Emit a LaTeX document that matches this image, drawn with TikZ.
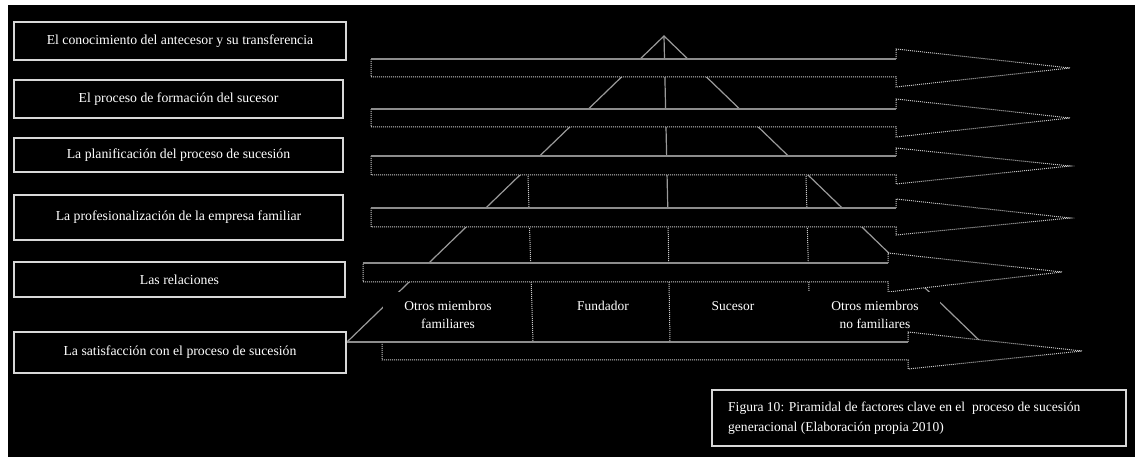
\documentclass[tikz,border=0pt]{standalone}
\usepackage{fontspec}
\setmainfont{Liberation Serif}
\definecolor{boxline}{HTML}{D8D8D8}
\definecolor{topline}{HTML}{8C8C8C}
\definecolor{dotline}{HTML}{C8C8C8}
\definecolor{pyrline}{HTML}{9A9A9A}
\tikzset{
  leftbox/.style={draw=boxline, line width=1.2bp, text=white, inner sep=0pt,
    font=\fontsize{13.8}{17}\selectfont, align=center},
  arrowtop/.style={draw=topline, line width=1.3bp},
  arrowdots/.style={draw=dotline, line width=1bp, dash pattern=on 1bp off 1bp},
  pyr/.style={draw=pyrline, line width=1.2bp},
  pyrdots/.style={draw=dotline, line width=1bp, dash pattern=on 1bp off 1bp},
  collabel/.style={text=white, inner sep=0pt, align=center,
    font=\fontsize{13.5}{18}\selectfont},
  mask/.style={fill=black},
}
\begin{document}
\begin{tikzpicture}[x=1bp, y=-1bp]
\useasboundingbox (0,0) rectangle (1135,457);
\fill[white] (0,0) rectangle (1135,457);
\fill[black] (8,5) rectangle (1135,457);

% pyramid (drawn first, partly hidden by the arrows)
\coordinate (apex) at (664,36);
\coordinate (baseL) at (347,342);
\coordinate (baseR) at (981,342);
\draw[pyr] (baseL) -- (apex) -- (baseR);
\coordinate (cmid) at (668,218);
\coordinate (cbot) at (670,342);
\draw[pyr] (apex) -- (cmid);
\draw[pyrdots] (cmid) -- (cbot);
\coordinate (dLt) at (528,176);
\coordinate (dLb) at (533,342);
\draw[pyrdots] (dLt) -- (dLb);
\coordinate (dRt) at (806,176);
\coordinate (dRb) at (809,291);
\draw[pyrdots] (dRt) -- (dRb);

% arrows
\foreach \xo/\yt/\yb/\xb/\hT/\hB/\tx/\ty in {
  371/59/77/896/49/87/1070/68,
  371/109/127/896/99/137/1070/118,
  371/156/175/896/148/184/1070/166,
  371/208/227/896/199/235/1070/218,
  363/263/282/888/253/292/1062/272,
  382/342/360/908/332/369/1082/351}{
  \fill[black] (\xo,\yt) -- (\xb,\yt) -- (\xb,\hT) -- (\tx,\ty) -- (\xb,\hB) -- (\xb,\yb) -- (\xo,\yb) -- cycle;
  \draw[arrowdots] (\xb,\yt) -- (\xb,\hT) -- (\tx,\ty) -- (\xb,\hB) -- (\xb,\yb) -- (\xo,\yb) -- (\xo,\yt);
  \draw[arrowtop] (\xo,\yt) -- (\xb,\yt);
}

% masks behind the column labels
\fill[mask] (383,292) rectangle (515,338);
\fill[mask] (800,292) rectangle (940,330);

% left boxes
\node[leftbox, minimum width=332bp, minimum height=38bp] (b1) at (180,41) {El conocimiento del antecesor y su transferencia};
\node[leftbox, minimum width=329bp, minimum height=38bp] (b2) at (178.5,99) {El proceso de formación del sucesor};
\node[leftbox, minimum width=329bp, minimum height=34bp] (b3) at (178.5,155) {La planificación del proceso de sucesión};
\node[leftbox, minimum width=329bp, minimum height=45bp] (b4) at (178.5,217.5) {La profesionalización de la empresa familiar};
\node[leftbox, minimum width=331bp, minimum height=35bp] (b5) at (179.5,279.5) {Las relaciones};
\node[leftbox, minimum width=332bp, minimum height=41bp] (b6) at (180,352.5) {La satisfacción con el proceso de sucesión};

% link from last box to bottom arrow
\coordinate (a6start) at (382,342);
\draw[arrowtop] (b6.east |- a6start) -- (a6start);

% column labels
\node[collabel, anchor=north] (c1) at (448,301) {Otros miembros\\familiares};
\node[collabel, anchor=north] (c2) at (603,301) {Fundador};
\node[collabel, anchor=north] (c3) at (733,301) {Sucesor};
\node[collabel, anchor=north] (c4) at (875,301) {Otros miembros\\no familiares};

% caption
\node[draw=boxline, line width=1.2bp, text=white, minimum width=414bp, minimum height=56bp,
  inner sep=0pt] (cap) at (919,418) {};
\node[text=white, anchor=west, align=left, inner sep=0pt,
  font=\fontsize{13.6}{20}\selectfont] (captext) at (728,418)
  {Figura 10: Piramidal de factores clave en el\ \ proceso de sucesión\\generacional (Elaboración propia 2010)};
\end{tikzpicture}
\end{document}
